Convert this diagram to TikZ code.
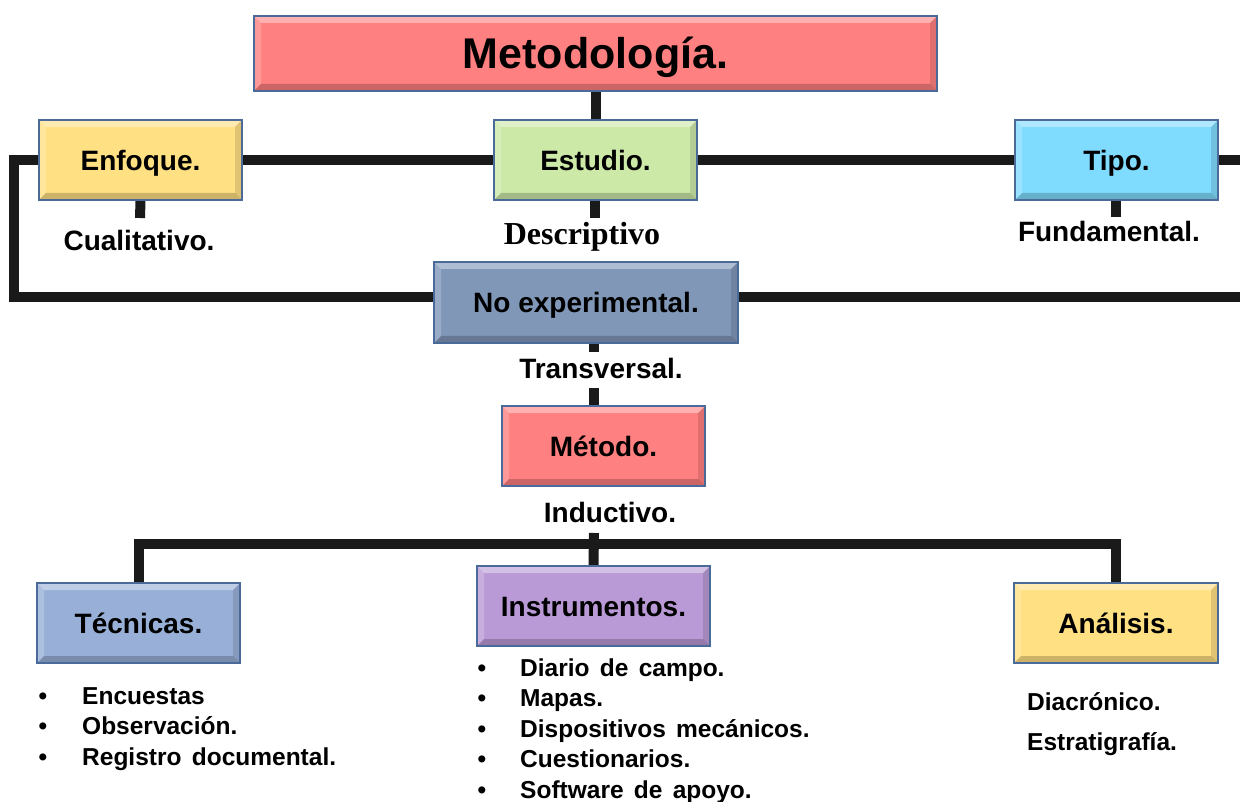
\documentclass[tikz,border=0pt]{standalone}
\usepackage{fontspec}
\setmainfont{Liberation Sans}
\newfontfamily\serifbold{Liberation Serif}
\usetikzlibrary{calc,backgrounds}
\definecolor{salmon}{HTML}{FF8080}
\definecolor{ylw}{HTML}{FFE082}
\definecolor{grn}{HTML}{CDE9A8}
\definecolor{sky}{HTML}{80DCFF}
\definecolor{slate}{HTML}{8097B8}
\definecolor{steel}{HTML}{98B0D8}
\definecolor{lilac}{HTML}{B99AD6}
\definecolor{boxedge}{HTML}{4A6A9A}
\definecolor{linec}{HTML}{1A1A1A}
\newcommand\widespaces{\spaceskip=0.42em plus 0.1em\relax}
\tikzset{
  bevel/.style={path picture={
    \path (path picture bounding box.north west) coordinate (bnw)
          (path picture bounding box.south east) coordinate (bse);
    \path (bnw -| bse) coordinate (bne) (bnw |- bse) coordinate (bsw);
    \path ($(bnw)+(7pt,-7pt)$) coordinate (inw) ($(bne)+(-7pt,-7pt)$) coordinate (ine)
          ($(bse)+(-7pt,7pt)$) coordinate (ise) ($(bsw)+(7pt,7pt)$) coordinate (isw);
    \fill[white,opacity=.38] (bnw) -- (bne) -- (ine) -- (inw) -- cycle;
    \fill[white,opacity=.2] (bnw) -- (inw) -- (isw) -- (bsw) -- cycle;
    \fill[black,opacity=.2] (bsw) -- (isw) -- (ise) -- (bse) -- cycle;
    \fill[black,opacity=.12] (bne) -- (bse) -- (ise) -- (ine) -- cycle;
  }},
  box/.style={draw=boxedge, line width=1.2pt, inner sep=0pt, bevel,
    minimum width=203pt, minimum height=80pt, text height=20.5pt, text depth=0pt,
    font=\bfseries\fontsize{28}{30}\selectfont},
  lbl/.style={inner sep=0pt, font=\bfseries\fontsize{28}{30}\selectfont},
  item/.style={inner sep=0pt, font=\bfseries\fontsize{24.5}{26}\selectfont,
    execute at begin node=\widespaces},
  conn/.style={draw=linec, line width=10pt},
}
\begin{document}
\begin{tikzpicture}[x=1pt,y=-1pt]
\useasboundingbox (0,0) rectangle (1240,802);

% boxes
\node[box, fill=salmon, minimum width=683pt, minimum height=75pt, text height=31pt,
      font=\bfseries\fontsize{43}{45}\selectfont] (meto) at (595.5,53.5) {Metodología.};
\node[box, fill=ylw] (enf) at (140.5,160) {Enfoque.};
\node[box, fill=grn] (estu) at (595.5,160) {Estudio.};
\node[box, fill=sky] (tipo) at (1116.5,160) {Tipo.};
\node[box, fill=slate, minimum width=304pt, minimum height=81pt] (noexp) at (586,302.5) {No experimental.};
\node[box, fill=salmon] (met) at (603.5,446) {Método.};
\node[box, fill=steel] (tec) at (138.5,623) {Técnicas.};
\node[box, fill=lilac, minimum width=233pt] (ins) at (593.5,606) {Instrumentos.};
\node[box, fill=ylw, minimum width=204pt] (ana) at (1116,623) {Análisis.};

% labels
\node[lbl] (cual) at (139,240) {Cualitativo.};
\node[inner sep=0pt, anchor=base, font=\serifbold\bfseries\fontsize{32}{34}\selectfont] (desc) at (582,245) {Descriptivo};
\node[lbl] (fund) at (1109,231) {Fundamental.};
\node[lbl] (trans) at (601,368) {Transversal.};
\node[lbl] (induc) at (610,512) {Inductivo.};

% lists
\foreach \t [count=\i] in {Encuestas, Observación., Registro documental.} {
  \node[item, anchor=base] (tecb\i) at (43,{704+30.5*(\i-1)}) {•};
  \node[item, anchor=base west] (tec\i) at (82,{704+30.5*(\i-1)}) {\t};
}
\foreach \t [count=\i] in {Diario de campo., Mapas., Dispositivos mecánicos., Cuestionarios., Software de apoyo.} {
  \node[item, anchor=base] (insb\i) at (482,{676+30.5*(\i-1)}) {•};
  \node[item, anchor=base west] (ins\i) at (520,{676+30.5*(\i-1)}) {\t};
}
\node[item, anchor=base west] (ana1) at (1027,710) {Diacrónico.};
\node[item, anchor=base west] (ana2) at (1027,750) {Estratigrafía.};

% connectors
\coordinate (L1) at (14,160);
\coordinate (L2) at (14,297);
\coordinate (R1) at (1240,160);
\coordinate (R2) at (1240,297);
\coordinate (enfS) at (140,218);
\coordinate (estS) at (595,218);
\coordinate (tipS) at (1116,217);
\coordinate (neS) at (594,352);
\coordinate (metT) at (594,388);
\coordinate (H) at (0,544);
\coordinate (indS) at (594,533);
\begin{scope}[on background layer]
\draw[conn] (meto.south) -- (estu.north);
\draw[conn] (enf.east) -- (estu.west);
\draw[conn] (estu.east) -- (tipo.west);
\draw[conn] (tipo.east) -- (R1);
\draw[conn] (enf.west) -- (L1) -- (L2) -- (L2 -| noexp.west);
\draw[conn] (L2 -| noexp.east) -- (R2);
\draw[conn] (enf.south) -- (enfS);
\draw[conn] (estS |- estu.south) -- (estS);
\draw[conn] (tipS |- tipo.south) -- (tipS);
\draw[conn] (neS |- noexp.south) -- (neS);
\draw[conn] (metT) -- (metT |- met.north);
\draw[conn] (tec.north) -- (tec.north |- H) -- (ana.north |- H) -- (ana.north);
\draw[conn] (ins.north) -- (indS);
\end{scope}
\end{tikzpicture}
\end{document}
